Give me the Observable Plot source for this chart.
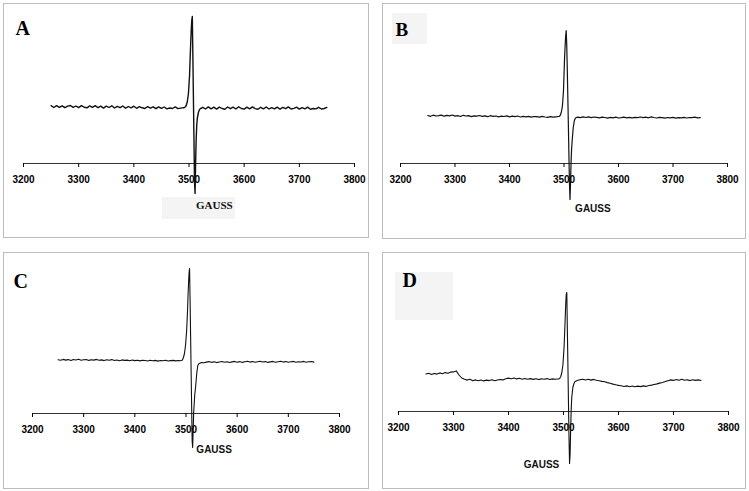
<!DOCTYPE html>
<html><head><meta charset="utf-8">
<script src="https://cdn.jsdelivr.net/npm/d3@7"></script>
<script src="https://cdn.jsdelivr.net/npm/@observablehq/plot@0.6"></script>
<style>
html,body{margin:0;padding:0;background:#fff;}
#root{position:relative;width:749px;height:491px;overflow:hidden;background:#fff;}
.panel{position:absolute;box-sizing:border-box;border:1px solid #bcbcbc;}
.shade{position:absolute;background:#f4f4f4;}
.plot{position:absolute;}
.plot text{font-weight:bold;}
</style></head><body><div id="root"></div>
<script>
// ---------- DATA ----------
const xTicks = [3200, 3300, 3400, 3500, 3600, 3700, 3800];
const axisLabel = "GAUSS";
const panelNames = ["A", "B", "C", "D"];

// field grid (gauss) for the low-field baseline, the signal and the high-field baseline
const fieldLow = [3250,3255,3260,3265,3270,3275,3280,3285,3290,3295,
  3300,3305,3310,3315,3320,3325,3330,3335,3340,3345,
  3350,3355,3360,3365,3370,3375,3380,3385,3390,3395,
  3400,3405,3410,3415,3420,3425,3430,3435,3440,3445,
  3450,3455,3460,3465,3470,3475,3480,3485,3490];
const fieldSig = [3491,3493,3495,3497,3499,3501,3502,3503,3504,3505,3506,3507,
  3508,3509,3510,3511,3512,3513,3514,3515,3517,3519,3521,3523];
const fieldHigh = [3525,3530,3535,3540,3545,3550,3555,3560,3565,3570,
  3575,3580,3585,3590,3595,3600,3605,3610,3615,3620,
  3625,3630,3635,3640,3645,3650,3655,3660,3665,3670,
  3675,3680,3685,3690,3695,3700,3705,3710,3715,3720,
  3725,3730,3735,3740,3745,3750];

// intensities (arbitrary units, baseline ~ 0)
const lowA = [1.8,0.0,1.9,0.2,1.7,-0.2,1.4,2.0,0.1,1.5,
  -0.1,1.8,0.3,-0.3,1.6,0.1,1.9,-0.2,1.3,-0.6,
  1.4,0.0,1.7,-0.5,1.2,-0.2,1.5,-0.7,1.0,-0.4,
  1.3,-0.8,0.9,-0.3,-1.0,0.8,-0.6,0.7,-1.2,0.6,
  -0.9,0.5,-1.3,-0.5,-1.0,0.6,-1.1,-0.6,-0.1];
const sigA = [-0.3,0.5,2,6,14,32,48,63,77,87,91,52,10,-32,-74,-86,-55,-32,-18,-11,-5,-2,-1,-0.5];
const highA = [0.2,-1.5,0.6,-1.3,0.3,-1.6,0.4,-1.0,-1.7,0.5,
  -1.2,0.3,-1.5,0.7,-1.0,-1.6,0.3,-1.4,0.6,-1.1,
  -1.8,0.2,-1.3,0.5,-1.5,-0.1,-1.4,0.4,-1.7,0.1,
  -1.2,0.6,-1.5,-0.9,0.3,-1.6,-0.1,-1.3,0.4,-1.7,
  -1.0,-1.4,0.2,-1.5,-1.0,0.1];

const lowB = [1.0,0.2,1.3,0.5,0.9,1.4,0.3,1.1,0.6,1.5,
  0.4,0.8,0.0,1.2,0.5,0.9,-0.1,0.7,0.3,1.0,
  0.2,0.6,-0.2,0.8,0.1,0.5,-0.3,0.4,0.0,0.6,
  -0.4,0.3,-0.1,0.5,-0.5,0.1,-0.3,0.2,-0.6,0.0,
  -0.2,-0.7,0.1,-0.5,-0.9,-0.2,-0.6,-0.3,0.0];
const sigB = [0,1,4,10,25,58,70,80,86,72,48,20,-8,-38,-66,-83,-66,-45,-32,-24,-11,-4,-1.5,-1];
const highB = [-0.6,-1.2,-0.4,-1.0,-0.3,-1.1,-0.5,-0.9,-1.4,-0.6,
  -1.0,-1.6,-0.8,-1.3,-0.7,-1.5,-1.1,-0.6,-1.3,-0.9,
  -1.4,-0.8,-1.2,-0.5,-1.1,-0.7,-1.3,-0.4,-1.0,-1.5,
  -0.9,-1.2,-1.7,-1.0,-1.4,-0.8,-1.6,-1.1,-1.3,-0.9,
  -1.5,-1.0,-1.2,-0.7,-1.4,-1.1];

const lowC = [0.8,0.2,1.1,0.4,0.9,0.0,1.0,0.5,1.2,0.3,
  0.7,1.0,0.1,0.8,0.4,1.1,0.2,0.6,-0.1,0.7,
  0.3,0.9,0.0,0.5,-0.2,0.6,0.1,0.4,-0.3,0.5,
  -0.1,0.3,-0.4,0.2,0.0,-0.5,0.3,-0.2,0.1,-0.6,
  0.0,-0.3,0.2,-0.5,-0.1,0.1,-0.4,0.0,-0.2];
const sigC = [0,0.5,3,7,15,28,38,50,65,78,88,92,60,25,-10,-45,-80,-87,-70,-52,-35,-25,-13,-5];
const highC = [-3.2,-2.0,-2.2,-1.6,-1.1,-1.9,-1.3,-2.1,-1.5,-1.0,
  -1.8,-1.2,-2.0,-1.4,-0.9,-1.7,-1.1,-1.9,-1.3,-0.8,
  -1.6,-1.0,-1.8,-1.2,-0.7,-1.5,-1.1,-1.9,-1.4,-0.9,
  -1.7,-1.2,-0.8,-1.6,-1.0,-1.8,-1.3,-0.9,-1.7,-1.2,
  -1.5,-0.9,-1.8,-1.3,-1.0,-1.6];

const lowD = [5.5,6.2,5.0,6.0,5.4,6.6,5.8,6.9,6.3,7.4,
  7.6,8.6,4.5,1.5,0.2,-0.6,0.3,-1.2,-0.4,-1.3,
  -0.5,-1.4,-0.6,-1.1,-0.2,-1.3,-0.5,0.0,-0.4,0.8,
  1.4,0.7,1.5,0.6,1.2,0.3,1.0,0.2,0.9,0.1,
  0.8,-0.1,0.7,0.2,0.9,0.0,0.6,0.3,0.5];
const sigD = [0.5,1,3,7,15,32,45,60,75,85,87,50,15,-22,-58,-84,-75,-50,-30,-18,-8,-4,-2,-1.5];
const highD = [-1.0,-0.2,0.3,-0.5,0.2,-0.6,0.1,-0.8,-1.2,-1.9,
  -2.3,-3.1,-3.8,-4.6,-5.3,-5.9,-6.3,-7.0,-6.4,-7.2,
  -6.5,-7.3,-6.6,-7.1,-6.4,-6.9,-6.0,-5.6,-5.0,-4.4,
  -3.6,-3.0,-2.1,-1.2,-0.4,-0.9,0.0,-0.7,0.2,-0.8,
  -0.3,-1.1,-0.2,-0.9,-0.4,-1.0];

// ---------- BUILD ----------
function spectrum(low, sig, high) {
  return [
    ...fieldLow.map((f, i) => ({field: f, intensity: low[i]})),
    ...fieldSig.map((f, i) => ({field: f, intensity: sig[i]})),
    ...fieldHigh.map((f, i) => ({field: f, intensity: high[i]}))
  ];
}

const serif = "'Liberation Serif', 'Times New Roman', Times, serif";
const sans = "'Liberation Sans', Arial, Helvetica, sans-serif";

const panels = [
  {data: spectrum(lowA, sigA, highA), left: 3, top: 3, width: 365, height: 234, mL: 20, mR: 14, mB: 74,
   yDomain: [-56, 104], letter: {dx: -8, dy: 17, size: 20}, gauss: {x: 3546, y: -101, font: serif, size: 11}, sw: 1.4},
  {data: spectrum(lowB, sigB, highB), left: 382, top: 3, width: 363, height: 235, mL: 18, mR: 18, mB: 75,
   yDomain: [-47, 113], letter: {dx: -5, dy: 19, size: 19}, gauss: {x: 3553, y: -95, font: sans, size: 10}, sw: 1.2},
  {data: spectrum(lowC, sigC, highC), left: 3, top: 252, width: 365, height: 236, mL: 29, mR: 29, mB: 75,
   yDomain: [-53, 108], letter: {dx: -19, dy: 21, size: 20}, gauss: {x: 3555, y: -92, font: sans, size: 10}, sw: 1.1},
  {data: spectrum(lowD, sigD, highD), left: 382, top: 252, width: 363, height: 236, mL: 16, mR: 17, mB: 77,
   yDomain: [-32, 127], letter: {dx: 4, dy: 20, size: 20}, gauss: {x: 3460, y: -88, font: sans, size: 10}, sw: 1.1}
];

const shades = [
  {left: 162, top: 197, width: 73, height: 22},
  {left: 392, top: 13, width: 35, height: 31},
  {left: 395, top: 272, width: 58, height: 48}
];

const root = document.getElementById("root");
for (const s of shades) {
  const d = document.createElement("div");
  d.className = "shade";
  Object.assign(d.style, {left: s.left + "px", top: s.top + "px", width: s.width + "px", height: s.height + "px"});
  root.appendChild(d);
}

panels.forEach((p, k) => {
  const box = document.createElement("div");
  box.className = "panel";
  Object.assign(box.style, {left: p.left + "px", top: p.top + "px", width: p.width + 1 + "px", height: p.height + 1 + "px"});
  root.appendChild(box);

  const svg = Plot.plot({
    width: p.width, height: p.height,
    marginLeft: p.mL, marginRight: p.mR, marginTop: 0, marginBottom: p.mB,
    x: {domain: [xTicks[0], xTicks[xTicks.length - 1]]},
    y: {domain: p.yDomain, axis: null},
    style: {background: "transparent", overflow: "visible", fontFamily: sans, fontWeight: "bold"},
    marks: [
      Plot.ruleY([p.yDomain[0]], {stroke: "#333", strokeWidth: 1}),
      Plot.axisX({ticks: xTicks, tickSize: 4, tickPadding: 8, tickFormat: d => String(d), label: null,
                  fontSize: 10, fontWeight: "bold", fontFamily: sans, color: "#000"}),
      Plot.line(p.data, {x: "field", y: "intensity", stroke: "#111", strokeWidth: p.sw}),
      Plot.text([panelNames[k]], {frameAnchor: "top-left", dx: p.letter.dx, dy: p.letter.dy,
                  textAnchor: "start", lineAnchor: "top", fontFamily: serif, fontWeight: "bold",
                  fontSize: p.letter.size, fill: "#000"}),
      Plot.text([{x: p.gauss.x, y: p.gauss.y, t: axisLabel}], {x: "x", y: "y", text: "t",
                  lineAnchor: "bottom", fontFamily: p.gauss.font, fontWeight: "bold",
                  fontSize: p.gauss.size, fill: "#111"})
    ]
  });
  svg.classList.add("plot");
  svg.style.left = p.left + "px";
  svg.style.top = p.top + "px";
  root.appendChild(svg);
});
</script></body></html>
